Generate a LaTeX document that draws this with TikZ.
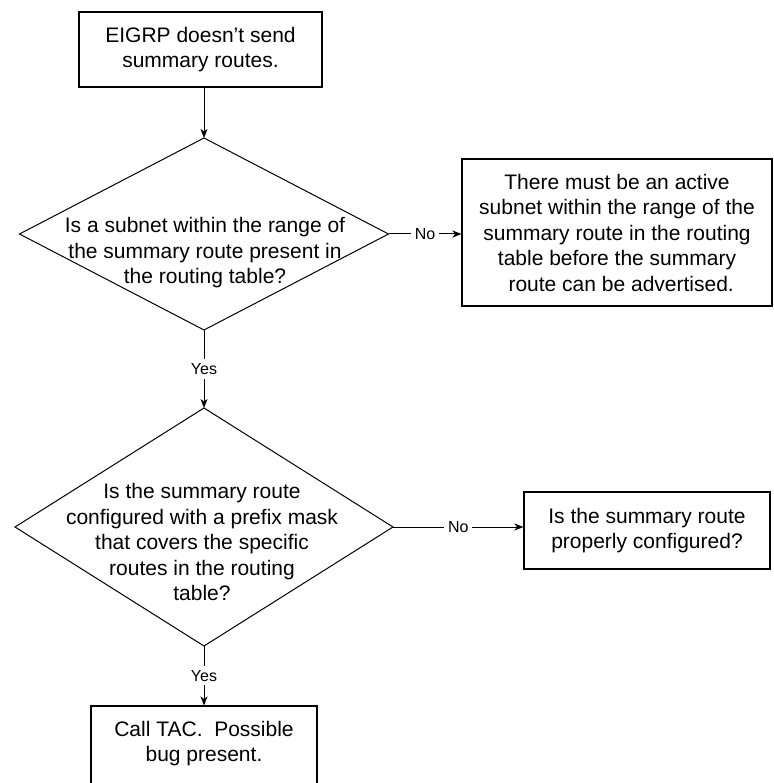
\documentclass[tikz,border=0pt]{standalone}
\usepackage{fontspec}
\setmainfont{Liberation Sans}
\usetikzlibrary{shapes.geometric,arrows.meta}
\begin{document}
\begin{tikzpicture}[
	x=1pt, y=-1pt,
	blocco/.style={rectangle, draw=black, line width=1.1pt,
		inner sep=0pt, align=center,
		font=\fontsize{21}{25.5}\selectfont},
	rombo/.style={diamond, draw=black, line width=1pt,
		inner sep=0pt, outer sep=0pt},
	testo/.style={align=center, inner sep=0pt,
		font=\fontsize{21}{25.5}\selectfont},
	freccia/.style={line width=1pt,
		-{Stealth[length=9pt,width=7pt,inset=2.5pt]}},
	risposta/.style={fill=white, inner sep=4pt,
		font=\fontsize{16}{19}\selectfont},
	]
	\useasboundingbox (0,0) rectangle (773,783);
	
	\node[blocco, minimum width=243pt, minimum height=75pt]
	(inizio) at (200.5,49.5) {EIGRP doesn't send\\summary routes.};
	
	\node[rombo, minimum width=369pt, minimum height=192pt]
	(rombo1) at (204,234) {};
	\node[testo] (domanda1) at (205,253)
	{Is a subnet within the range of\\the summary route present in\\the routing table?};
	
	\node[blocco, minimum width=310pt, minimum height=147pt]
	(avviso) at (617,232.5)
	{There must be an active\\subnet within the range of the\\summary route in the routing\\table before the summary\\\hspace*{0.4em}route can be advertised.};
	
	\node[rombo, minimum width=378pt, minimum height=238pt]
	(rombo2) at (204,527) {};
	\node[testo] (domanda2) at (202,542)
	{Is the summary route\\configured with a prefix mask\\that covers the specific\\routes in the routing\\table?};
	
	\node[blocco, minimum width=246pt, minimum height=77pt]
	(verifica) at (647,530.5)
	{Is the summary route\\properly configured?};
	
	\node[blocco, minimum width=226pt, minimum height=82pt]
	(tac) at (204,747) {};
	\node[testo] (tactesto) at (204,743.5)
	{Call TAC.\ \ Possible\\bug present.};
	
	% collegamenti
	\draw[freccia](inizio.south -| rombo1.north)--(rombo1.north);
	\draw[freccia](rombo1.east)--node[risposta]{No}
	(rombo1.east -| avviso.west);
	\draw[freccia](rombo1.south)--node[risposta]{Yes}(rombo2.north);
	\draw[freccia](rombo2.east)--node[risposta]{No}
	(rombo2.east -| verifica.west);
	\draw[freccia](rombo2.south)--node[risposta]{Yes}(tac.north);
\end{tikzpicture}
\end{document}
